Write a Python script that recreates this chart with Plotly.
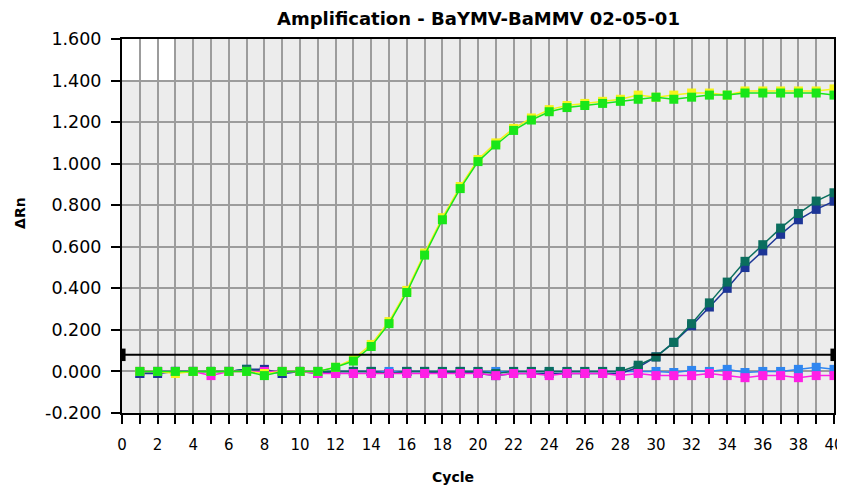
import plotly.graph_objects as go

cycles = list(range(1, 41))

yellow = [0.00, 0.00, -0.01, 0.00, 0.00, 0.00, 0.00, -0.01, 0.00, 0.00,
          0.00, 0.02, 0.06, 0.13, 0.24, 0.39, 0.57, 0.74, 0.89, 1.02,
          1.10, 1.17, 1.22, 1.26, 1.28, 1.29, 1.30, 1.31, 1.33, 1.32,
          1.33, 1.34, 1.34, 1.33, 1.35, 1.35, 1.35, 1.35, 1.35, 1.36]
green = [0.00, 0.00, 0.00, 0.00, 0.00, 0.00, 0.00, -0.02, 0.00, 0.00,
         0.00, 0.02, 0.05, 0.12, 0.23, 0.38, 0.56, 0.73, 0.88, 1.01,
         1.09, 1.16, 1.21, 1.25, 1.27, 1.28, 1.29, 1.30, 1.31, 1.32,
         1.31, 1.32, 1.33, 1.33, 1.34, 1.34, 1.34, 1.34, 1.34, 1.33]
teal = [0.00, 0.00, 0.00, 0.00, 0.00, 0.00, 0.01, 0.00, 0.00, 0.00,
        0.00, 0.00, 0.00, 0.00, -0.01, 0.00, 0.00, 0.00, 0.00, 0.00,
        -0.01, 0.00, 0.00, 0.00, 0.00, 0.00, 0.00, 0.00, 0.03, 0.07,
        0.14, 0.23, 0.33, 0.43, 0.53, 0.61, 0.69, 0.76, 0.82, 0.86]
darkblue = [-0.01, -0.01, 0.00, 0.00, 0.00, 0.00, 0.01, 0.01, -0.01, 0.00,
            -0.01, 0.00, 0.00, 0.00, -0.01, 0.00, 0.00, -0.01, 0.00, -0.01,
            -0.02, -0.01, -0.01, -0.01, -0.01, -0.01, -0.01, -0.01, 0.02, 0.07,
            0.14, 0.22, 0.31, 0.40, 0.50, 0.58, 0.66, 0.73, 0.78, 0.82]
lightblue = [-0.01, 0.00, 0.00, 0.00, 0.00, 0.00, 0.01, 0.00, -0.01, 0.00,
             0.00, 0.00, 0.00, 0.00, 0.00, 0.00, 0.00, 0.00, 0.00, 0.00,
             0.00, 0.00, 0.00, 0.00, 0.00, 0.00, 0.00, 0.00, 0.00, 0.00,
             -0.005, 0.005, 0.00, 0.01, -0.005, 0.00, 0.00, 0.01, 0.02, 0.01]
magenta = [0.00, 0.00, 0.00, 0.00, -0.02, 0.00, 0.00, 0.00, 0.00, 0.00,
           -0.01, -0.01, -0.01, -0.01, -0.01, -0.01, -0.01, -0.01, -0.01, -0.01,
           -0.02, -0.01, -0.01, -0.02, -0.01, -0.01, -0.01, -0.02, -0.01, -0.02,
           -0.02, -0.02, -0.01, -0.02, -0.03, -0.02, -0.02, -0.03, -0.02, -0.02]

threshold = 0.08
y_ticks = [-0.2, 0.0, 0.2, 0.4, 0.6, 0.8, 1.0, 1.2, 1.4, 1.6]
x_ticks = list(range(0, 41, 2))

series = [
    ("Light blue", lightblue, "#2f86f0"),
    ("Dark blue", darkblue, "#1c3596"),
    ("Teal", teal, "#0b6e5e"),
    ("Magenta", magenta, "#ff1fe6"),
    ("Yellow", yellow, "#f4f41a"),
    ("Green", green, "#19e619"),
]

fig = go.Figure()
for name, vals, col in series:
    fig.add_trace(go.Scatter(
        x=cycles, y=vals, name=name, mode="lines+markers",
        line=dict(color=col, width=1.5),
        marker=dict(symbol="square", size=9, color=col),
        showlegend=False,
    ))

# odd white patch at top-left of the plot background
fig.add_shape(type="rect", xref="x", yref="y", x0=0, x1=3, y0=1.4, y1=1.6,
              fillcolor="white", line=dict(width=0), layer="below")
# threshold line with end handles
fig.add_shape(type="line", xref="x", yref="y", x0=0, x1=40, y0=threshold, y1=threshold,
              line=dict(color="black", width=2))
fig.add_shape(type="rect", xref="x", yref="y", x0=0, x1=0.2, y0=threshold - 0.03, y1=threshold + 0.03,
              fillcolor="black", line=dict(width=0))
fig.add_shape(type="rect", xref="x", yref="y", x0=39.8, x1=40, y0=threshold - 0.03, y1=threshold + 0.03,
              fillcolor="black", line=dict(width=0))

fig.add_annotation(text="<b>Amplification - BaYMV-BaMMV 02-05-01</b>",
                   xref="paper", yref="paper", x=0.5, y=1.0, yshift=8,
                   xanchor="center", yanchor="bottom", showarrow=False,
                   font=dict(size=18, family="DejaVu Sans"))
fig.add_annotation(text="<b>Cycle</b>", xref="paper", yref="paper", x=0.465, y=0,
                   yshift=-54, xanchor="center", yanchor="top", showarrow=False,
                   font=dict(size=14, family="DejaVu Sans"))
fig.add_annotation(text="<b>ΔRn</b>", xref="paper", yref="paper", x=0, xshift=-102,
                   y=0.535, xanchor="center", yanchor="middle", textangle=-90,
                   showarrow=False, font=dict(size=14, family="DejaVu Sans"))

# page body has an 8px margin, so margins are offset to land the plot area in place
fig.update_layout(
    width=845, height=492,
    margin=dict(l=114, r=19, t=31, b=87, autoexpand=False),
    paper_bgcolor="white", plot_bgcolor="#ececec",
    font=dict(family="DejaVu Sans", size=13, color="black"),
    xaxis=dict(range=[0, 40], tickvals=x_ticks, ticktext=[str(v) for v in x_ticks],
               automargin=False, ticklabelstandoff=8,
               showgrid=True, gridcolor="#9c9c9c", gridwidth=2,
               ticks="outside", ticklen=9, tickwidth=2, tickcolor="black",
               minor=dict(dtick=1, showgrid=True, gridcolor="#9c9c9c", gridwidth=2,
                          ticks="outside", ticklen=9, tickwidth=2, tickcolor="black"),
               showline=True, linecolor="black", linewidth=2, mirror=True,
               zeroline=False, tickfont=dict(size=15, family="DejaVu Sans")),
    yaxis=dict(range=[-0.2, 1.6], tickvals=y_ticks, ticktext=[f"{v:.3f}" for v in y_ticks],
               automargin=False, ticklabelstandoff=6,
               showgrid=True, gridcolor="#9c9c9c", gridwidth=2,
               ticks="outside", ticklen=9, tickwidth=2, tickcolor="black",
               showline=True, linecolor="black", linewidth=2, mirror=True,
               zeroline=False, tickfont=dict(size=17.5, family="DejaVu Sans")),
)

fig.write_html("out.html")
